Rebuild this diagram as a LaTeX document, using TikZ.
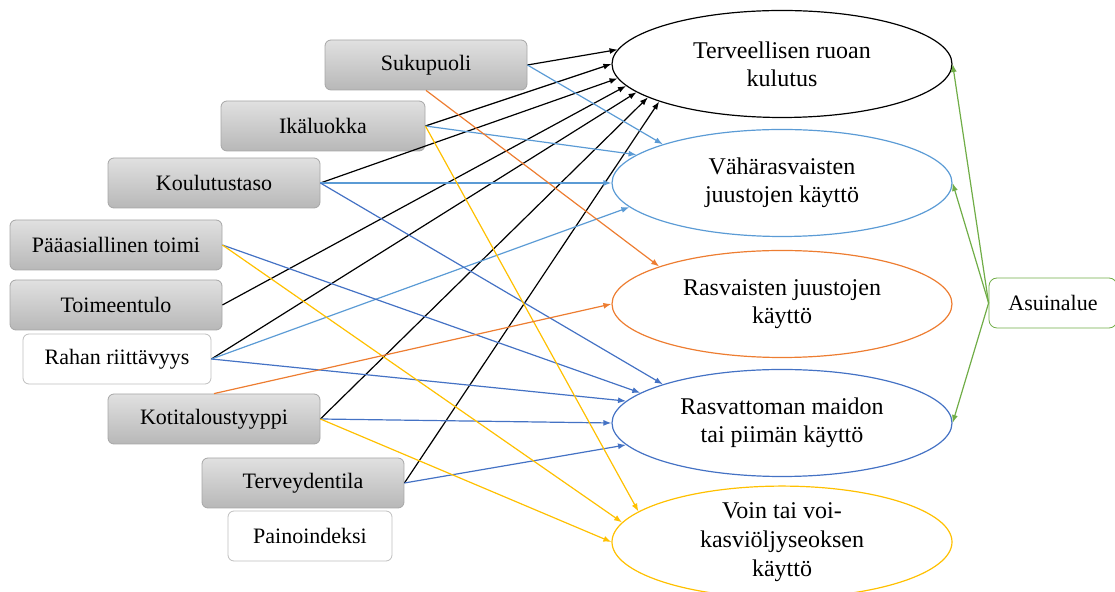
\documentclass[tikz,border=0pt]{standalone}
\usepackage{fontspec}
\setmainfont{Liberation Serif}
\usetikzlibrary{arrows.meta,shapes.geometric}
\definecolor{lblue}{HTML}{5B9BD5}
\definecolor{dblue}{HTML}{4472C4}
\definecolor{orng}{HTML}{ED7D31}
\definecolor{yell}{HTML}{FFC000}
\definecolor{grn}{HTML}{70AD47}
\begin{document}
\begin{tikzpicture}[x=0.5pt, y=-0.5pt,
    factor/.style={draw=black!35, rounded corners=3pt, top color=black!12, bottom color=black!28,
      minimum height=25pt, inner sep=0pt, font=\fontsize{11}{13}\selectfont},
    plainfactor/.style={factor, top color=white, bottom color=white, draw=black!25},
    outcome/.style={draw, ellipse, minimum width=170pt, minimum height=53.5pt, inner sep=0pt,
      align=center, line width=0.6pt, font=\fontsize{12}{14}\selectfont},
    link/.style={-{Latex[length=4pt,width=3pt]}, line width=0.6pt}]
  \useasboundingbox (0,0) rectangle (1115,592);

  % background factors
  \foreach \n/\x/\y/\w/\lab in {suku/426/65/101/Sukupuoli, ika/323/126/102/Ikäluokka,
      koulu/214/183/106/Koulutustaso, toimi/116/245/106/Pääasiallinen toimi,
      tulo/116/305/106/Toimeentulo, koti/214/419/106/Kotitaloustyyppi, terv/303/483/101/Terveydentila}
    \node[factor, minimum width=\w pt] (\n) at (\x,\y) {\lab};
  \node[plainfactor, minimum width=94pt] (raha) at (117,359) {Rahan riittävyys};
  \node[plainfactor, minimum width=82pt] (paino) at (310,536) {Painoindeksi};
  \node[plainfactor, draw=grn, rounded corners=4pt, minimum width=64pt] (asuin) at (1053,303) {Asuinalue};

  % outcomes
  \node[outcome] (ruoka) at (782,64) {Terveellisen ruoan\\kulutus};
  \node[outcome, draw=lblue] (vaha) at (782,183) {Vähärasvaisten\\juustojen käyttö};
  \node[outcome, draw=orng] (rasv) at (782,304) {Rasvaisten juustojen\\käyttö};
  \node[outcome, draw=dblue] (maito) at (782,423) {Rasvattoman maidon\\tai piimän käyttö};
  \node[outcome, draw=yell, font=\fontsize{12}{14.5}\selectfont] (voi) at (782,542) {Voin tai voi-\\kasviöljyseoksen\\käyttö};

  % links
  \foreach \s/\a in {suku/175, ika/180, koulu/185, tulo/188, raha/191, koti/194, terv/197}
    \draw[link] (\s.east) -- (ruoka.\a);
  \foreach \s/\a in {suku/162, ika/169, koulu/180, raha/189}
    \draw[link, lblue] (\s.east) -- (vaha.\a);
  \foreach \s/\a in {koulu/162, toimi/168, raha/172, koti/180, terv/188}
    \draw[link, dblue] (\s.east) -- (maito.\a);
  \foreach \s/\a in {ika/168, toimi/173, koti/180}
    \draw[link, yell] (\s.east) -- (voi.\a);
  \draw[link, orng] (suku.south) -- (rasv.163);
  \draw[link, orng] (koti.north) -- (rasv.180);
  \foreach \t in {ruoka, vaha, maito}
    \draw[link, grn] (asuin.west) -- (\t.east);
\end{tikzpicture}
\end{document}
